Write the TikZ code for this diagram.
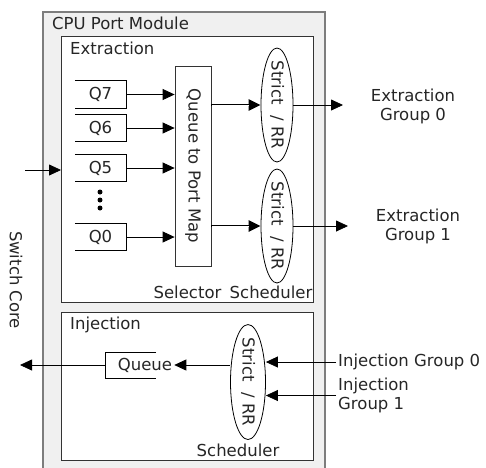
\documentclass[tikz,border=0pt]{standalone}
\usepackage{fontspec}
\setmainfont{DejaVu Sans}
\usetikzlibrary{arrows.meta,shapes.geometric}
\definecolor{modfill}{RGB}{240,240,240}
\definecolor{modline}{RGB}{125,125,125}

\begin{document}
\begin{tikzpicture}[x=1pt,y=-1pt,
    every node/.style={font=\fontsize{16.5}{19}\selectfont, text=black!85, inner sep=2pt},
    box/.style={draw=black!80, fill=white, line width=0.8pt},
    arr/.style={line width=0.8pt, -{Triangle[length=12pt,width=11pt]}},
    dblarr/.style={line width=2.8pt, -{Triangle[length=12pt,width=11pt]}},
    dblgap/.style={white, line width=0.9pt, shorten >=12pt, shorten <=0.6pt},
    sched/.style={ellipse, draw, line width=0.8pt, rotate=-90, inner sep=0pt, minimum width=114pt, minimum height=32pt},
    qlabel/.style={minimum width=51pt, minimum height=27pt, inner sep=0pt}]
\useasboundingbox (0,0) rectangle (486,467);

% module frame, open at the bottom
\fill[modfill] (43,12) rectangle (325,470);
\draw[modline, line width=1.5pt] (43,470) -- (43,12) -- (325,12) -- (325,470);
\node[anchor=west] (cpu) at (50,23) {CPU Port Module};

% extraction part
\node[box, anchor=north west, minimum width=252pt, minimum height=266pt] (ext) at (61,36) {};
\node[anchor=west] (extlbl) at (68,48) {Extraction};
\foreach \q/\y in {7/94.5,6/128,5/168,0/237} {
    \node[qlabel] (q\q) at (100.5,\y) {Q\q};
    \draw[line width=0.8pt] (q\q.north west) -- (q\q.north east) -- (q\q.south east) -- (q\q.south west);
}
\foreach \y in {192,200,208}
    \fill (100,\y) circle (2.5);
\node[box, rotate=-90, minimum width=200pt, minimum height=36pt, inner sep=0pt] (map) at (193,166) {Queue to Port Map};
\foreach \q in {7,6,5,0}
    \draw[arr] (q\q.east) -- (map.south |- q\q.east);
\node[sched] (e0) at (277,105) {\makebox[70pt]{Strict\ \ / RR}};
\node[sched] (e1) at (277,226) {\makebox[70pt]{Strict\ \ / RR}};
\foreach \e in {e0,e1} {
    \draw[dblarr] (map.north |- \e) -- (\e);
    \draw[dblgap] (map.north |- \e) -- (\e);
}
\coordinate (eo0) at (343,105);
\coordinate (eo1) at (348,226);
\draw[arr] (e0) -- (eo0);
\draw[arr] (e1) -- (eo1);
\node[align=center] (eg0) at (413,106) {Extraction\\Group 0};
\node[align=center] (eg1) at (418,226) {Extraction\\Group 1};
\node (sel) at (187.5,292) {Selector};
\node (sch0) at (271,292) {Scheduler};

% switch core side
\coordinate (sc) at (25,170);
\draw[arr] (sc) -- (ext.west |- sc);
\node[rotate=-90] (swc) at (16,280) {Switch Core};

% injection part
\node[box, anchor=north west, minimum width=252pt, minimum height=148pt] (inj) at (61,312) {};
\node[anchor=west] (injlbl) at (68,325) {Injection};
\node[sched, minimum height=35pt, minimum width=115pt] (ie) at (248,382) {\makebox[70pt]{Strict\ \ / RR}};
\node (sch1) at (238,450) {Scheduler};
\node (iq) at (145,365) {Queue};
\draw[line width=0.8pt] (156,352) -- (105,352) -- (105,378) -- (156,378);
\coordinate (iqin) at (105,365);
\coordinate (sw) at (20,365);
\draw[arr] (ie.south |- iq) -- (iq);
\draw[arr] (iqin) -- (sw);
\node[anchor=west] (ig0) at (336,362) {Injection Group 0};
\node[anchor=west, align=left] (ig1) at (336,395.5) {Injection\\Group 1};
\draw[arr] (ig0.west) -- (ig0.west -| ie.north);
\draw[arr] (ig1.west) -- (ig1.west -| ie.north);
\end{tikzpicture}
\end{document}
